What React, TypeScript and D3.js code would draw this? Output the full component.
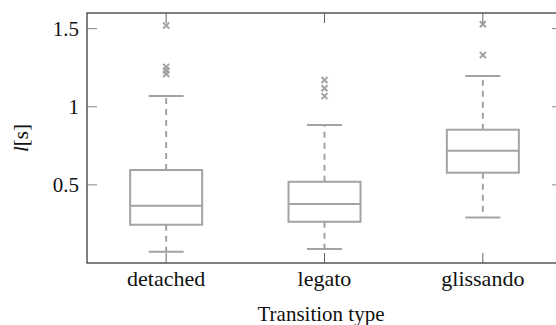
import * as d3 from 'd3';

const categories = ['detached', 'legato', 'glissando'];
const lowerWhisker = [0.072, 0.09, 0.292];
const q1 = [0.245, 0.264, 0.578];
const median = [0.367, 0.378, 0.719];
const q3 = [0.595, 0.52, 0.853];
const upperWhisker = [1.069, 0.883, 1.197];
const outliers = [
  [1.52, 1.255, 1.232, 1.21],
  [1.171, 1.118, 1.068],
  [1.528, 1.331],
];
const yTicks = [0.5, 1, 1.5];

const width = 556;
const height = 325;
const margin = { top: 13, left: 87, right: 562, bottom: 263 };
const boxGray = '#a3a3a3';
const serif = 'Times, "Times New Roman", Tinos, "Nimbus Roman", "DejaVu Serif", serif';

export default function App() {
  const x = d3.scalePoint<string>()
    .domain(categories)
    .range([margin.left, margin.right])
    .padding(0.5);

  const y = d3.scaleLinear()
    .domain([0, 1.6])
    .range([margin.bottom, margin.top]);

  const boxW = 72;
  const capW = 35;
  const fmt = (v: number) => String(v);

  return (
    <svg
      width={width}
      height={height}
      fontFamily={serif}
      style={{ position: 'absolute', left: 0, top: 0, background: '#fff' }}
    >
      {/* boxes */}
      {categories.map((c, i) => {
        const cx = x(c) || 0;
        return (
          <g key={c} stroke={boxGray} fill="none" strokeWidth={2}>
            <line x1={cx} x2={cx} y1={y(q3[i])} y2={y(upperWhisker[i])} strokeDasharray="6 5" />
            <line x1={cx} x2={cx} y1={y(q1[i])} y2={y(lowerWhisker[i])} strokeDasharray="6 5" />
            <line x1={cx - capW / 2} x2={cx + capW / 2} y1={y(upperWhisker[i])} y2={y(upperWhisker[i])} />
            <line x1={cx - capW / 2} x2={cx + capW / 2} y1={y(lowerWhisker[i])} y2={y(lowerWhisker[i])} />
            <rect x={cx - boxW / 2} y={y(q3[i])} width={boxW} height={y(q1[i]) - y(q3[i])} />
            <line x1={cx - boxW / 2} x2={cx + boxW / 2} y1={y(median[i])} y2={y(median[i])} />
            {outliers[i].map((o, j) => (
              <path
                key={j}
                d={`M${cx - 3},${y(o) - 3}L${cx + 3},${y(o) + 3}M${cx - 3},${y(o) + 3}L${cx + 3},${y(o) - 3}`}
                strokeWidth={2}
              />
            ))}
          </g>
        );
      })}

      {/* frame */}
      <rect
        x={margin.left}
        y={margin.top}
        width={margin.right - margin.left}
        height={margin.bottom - margin.top}
        fill="none"
        stroke="#000"
        strokeWidth={1}
      />

      {/* y ticks */}
      {yTicks.map(t => (
        <g key={t}>
          <line x1={margin.left} x2={margin.left + 10} y1={y(t)} y2={y(t)} stroke="#777" strokeWidth={0.9} />
          <line x1={margin.right - 10} x2={margin.right} y1={y(t)} y2={y(t)} stroke="#777" strokeWidth={0.9} />
          <text x={margin.left - 8} y={y(t) + 7} textAnchor="end" fontSize={21} fill="#111">
            {fmt(t)}
          </text>
        </g>
      ))}

      {/* x ticks */}
      {categories.map(c => (
        <g key={c}>
          <line x1={x(c)} x2={x(c)} y1={margin.top} y2={margin.top + 10} stroke="#555" strokeWidth={0.9} />
          <line x1={x(c)} x2={x(c)} y1={margin.bottom} y2={margin.bottom - 10} stroke="#555" strokeWidth={0.9} />
          <text x={x(c)} y={286} textAnchor="middle" fontSize={22} fill="#111">
            {c}
          </text>
        </g>
      ))}

      {/* axis labels */}
      <text x={321} y={321} textAnchor="middle" fontSize={21} fill="#111">
        Transition type
      </text>
      <text
        transform={`translate(28,${(margin.top + margin.bottom) / 2}) rotate(-90)`}
        textAnchor="middle"
        fontSize={21}
        fill="#111"
      >
        <tspan fontStyle="italic">l</tspan>
        <tspan>[s]</tspan>
      </text>
    </svg>
  );
}
